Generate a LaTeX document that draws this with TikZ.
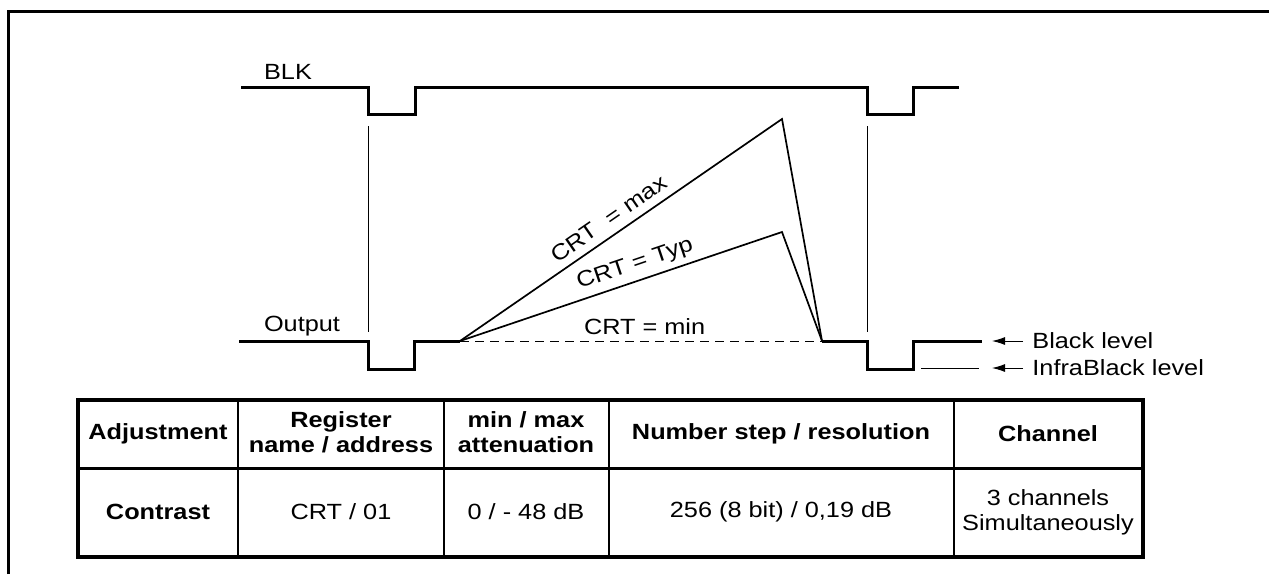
\documentclass[tikz,border=0pt]{standalone}
\usepackage{fontspec}
\setmainfont[FakeStretch=1.15]{Liberation Sans}
\usetikzlibrary{arrows.meta}

\newcommand\figfont{\fontsize{11}{12.5}\selectfont}

\begin{document}
\begin{tikzpicture}[x=0.5pt,y=-0.5pt,font=\figfont,
  signal/.style={line width=1.5pt},
  ramp/.style={line width=0.85pt},
  marker/.style={line width=0.5pt},
  lbl/.style={inner sep=0pt},
  cell/.style={align=center,inner sep=0pt},
  head/.style={cell,font=\figfont\bfseries},
  lvlarrow/.style={line width=0.5pt,-{Latex[length=6.5pt,width=4pt]}}]

\useasboundingbox (0,0) rectangle (1269,574);

% Frame
\draw[line width=1.5pt] (8,574) -- (8,11) -- (1269,11);

% BLK signal
\node[lbl] (blk) at (288,72) {BLK};
\draw[signal] (241,87) -- (368,87) -- (368,114) -- (415,114) -- (415,87)
  -- (867,87) -- (867,114) -- (913,114) -- (913,87) -- (959,87);

% Blanking markers
\draw[marker] (368,126) -- (368,332);
\draw[marker] (867,126) -- (867,332);

% Output signal
\node[lbl] (out) at (302,326) {Output};
\coordinate (rampstart) at (460,341);
\coordinate (rampend) at (822,341);
\coordinate (maxpeak) at (782,119);
\coordinate (typpeak) at (782,232);
\draw[signal] (239,341) -- (368,341) -- (368,369) -- (414,369) -- (414,341) -- (rampstart);
\draw[signal] (rampend) -- (867,341) -- (867,369) -- (913,369) -- (913,341) -- (982,341);
\draw[marker] (921,368) -- (979,368);

% Contrast ramps
\draw[ramp] (rampstart) -- node[lbl,sloped,above=3.8pt,pos=0.49] {CRT~~= max} (maxpeak) -- (rampend);
\draw[ramp] (rampstart) -- node[lbl,sloped,above=2.8pt,pos=0.56] {CRT = Typ} (typpeak) -- (rampend);
\draw[marker,dash pattern=on 4.5pt off 3pt] (rampstart) -- node[lbl,above=3pt,pos=0.51] {CRT = min} (rampend);

% Levels
\node[lbl,anchor=west] (blacklvl) at (1032,341) {Black level};
\node[lbl,anchor=west] (infralvl) at (1032,368) {InfraBlack level};
\coordinate (blacktip) at (992,341);
\coordinate (infratip) at (992,368);
\draw[lvlarrow] ([xshift=-4.5pt]blacklvl.west) -- (blacktip);
\draw[lvlarrow] ([xshift=-4.5pt]infralvl.west) -- (infratip);

% Table
\draw[line width=2pt] (78,400) rectangle (1143,557);
\draw[line width=1.5pt] (78,468) -- (1143,468);
\foreach \x in {238,444,609,954}
{
\draw[line width=0.75pt] (\x,400) -- (\x,557);
}

\node[head] (hadj) at (158,434) {Adjustment};
\node[head] (hreg) at (341,432) {Register\\name / address};
\node[head] (hatt) at (526,432) {min / max\\attenuation};
\node[head] (hstep) at (781,434) {Number step / resolution};
\node[head] (hchan) at (1048,434) {Channel};

\node[head] (contrast) at (158,512) {Contrast};
\node[cell] (creg) at (341,512) {CRT / 01};
\node[cell] (catt) at (526,512) {0 / - 48 dB};
\node[cell] (cstep) at (781,512) {256 (8 bit) / 0,19 dB};
\node[cell] (cchan) at (1048,512) {3 channels\\Simultaneously};

\end{tikzpicture}
\end{document}
